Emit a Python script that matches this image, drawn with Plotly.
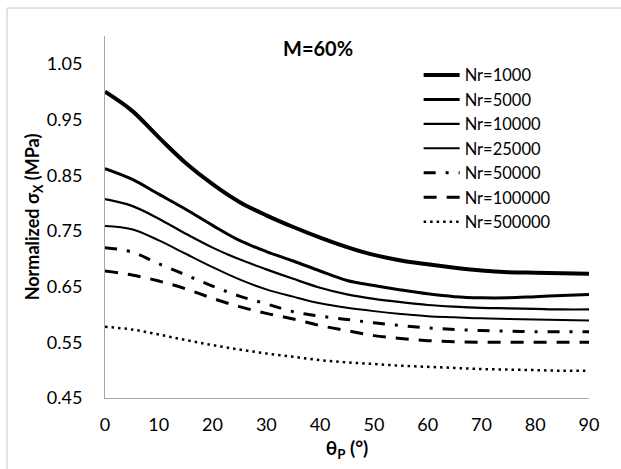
import plotly.graph_objects as go

theta = [0, 5, 10, 15, 20, 25, 30, 35, 40, 45, 50, 55, 60, 65, 70, 75, 80, 85, 90]

nr_1000 = [1.000, 0.966, 0.918, 0.872, 0.834, 0.802, 0.778, 0.757, 0.738, 0.721,
           0.707, 0.697, 0.690, 0.684, 0.679, 0.676, 0.675, 0.674, 0.673]
nr_5000 = [0.862, 0.843, 0.816, 0.789, 0.760, 0.733, 0.713, 0.696, 0.678, 0.661,
           0.652, 0.644, 0.637, 0.632, 0.630, 0.630, 0.632, 0.634, 0.636]
nr_10000 = [0.807, 0.795, 0.772, 0.745, 0.720, 0.699, 0.681, 0.664, 0.648, 0.636,
            0.628, 0.622, 0.617, 0.614, 0.612, 0.611, 0.610, 0.609, 0.609]
nr_25000 = [0.759, 0.753, 0.733, 0.709, 0.685, 0.663, 0.645, 0.632, 0.620, 0.612,
            0.606, 0.601, 0.597, 0.595, 0.593, 0.592, 0.591, 0.590, 0.589]
nr_50000 = [0.720, 0.712, 0.691, 0.671, 0.651, 0.633, 0.619, 0.605, 0.597, 0.591,
            0.585, 0.580, 0.576, 0.573, 0.571, 0.570, 0.569, 0.569, 0.569]
nr_100000 = [0.678, 0.671, 0.660, 0.646, 0.629, 0.614, 0.602, 0.592, 0.580, 0.571,
             0.562, 0.557, 0.553, 0.551, 0.550, 0.550, 0.550, 0.550, 0.550]
nr_500000 = [0.578, 0.573, 0.564, 0.554, 0.545, 0.537, 0.530, 0.524, 0.518, 0.514,
             0.511, 0.508, 0.506, 0.504, 0.502, 0.501, 0.500, 0.499, 0.499]

names = ["Nr=1000", "Nr=5000", "Nr=10000", "Nr=25000", "Nr=50000", "Nr=100000", "Nr=500000"]
series = [nr_1000, nr_5000, nr_10000, nr_25000, nr_50000, nr_100000, nr_500000]

# line look per series (Excel-ish)
widths = [4, 3, 2.2, 2, 3, 3, 2.5]
dashes = ["solid", "solid", "solid", "solid", "12px,10px,3px,10px", "13px,10px", "2.5px,4px"]

fig = go.Figure()
for name, ys, w, d in zip(names, series, widths, dashes):
    fig.add_trace(go.Scatter(x=theta, y=ys, mode="lines", name=name,
                             line=dict(color="black", width=w, dash=d, shape="spline")))

font = "Lato, 'Open Sans', sans-serif"
border = dict(color="#c8c8c8", width=1)

fig.update_layout(
    width=621, height=469,
    margin=dict(l=105, r=32, t=36, b=71),
    paper_bgcolor="white", plot_bgcolor="white",
    font=dict(family=font, size=18, color="black"),
    showlegend=True,
    legend=dict(x=0.648, y=0.94, xanchor="left", yanchor="top",
                bgcolor="rgba(0,0,0,0)", font=dict(size=16.5),
                tracegroupgap=0, itemwidth=36),
    xaxis=dict(range=[0, 90], tickvals=list(range(0, 91, 10)), showgrid=False,
               zeroline=False, showline=True, linecolor="#a6a6a6", linewidth=1,
               ticks="", ticklabelstandoff=10,
               title=dict(text="<b>θ<sub>P</sub> (°)</b>", font=dict(size=19), standoff=8)),
    yaxis=dict(range=[0.45, 1.10], tickvals=[0.45, 0.55, 0.65, 0.75, 0.85, 0.95, 1.05],
               tickformat=".2f", showgrid=False, zeroline=False, showline=True,
               linecolor="#a6a6a6", linewidth=1, ticks="", ticklabelstandoff=18,
               title=dict(text="<b>Normalized σ<sub>X</sub> (MPa)</b>", font=dict(size=18), standoff=2)),
    annotations=[dict(text="<b>M=60%</b>", x=0.44, y=0.967, xref="paper", yref="paper",
                      xanchor="center", yanchor="middle", showarrow=False,
                      font=dict(size=20))],
    # chart-area frame: only the left and top edges show in the reference
    shapes=[dict(type="line", xref="paper", yref="paper", x0=-0.2025, y0=-0.3,
                 x1=-0.2025, y1=1.0773, line=border),
            dict(type="line", xref="paper", yref="paper", x0=-0.2025, y0=1.0773,
                 x1=1.3, y1=1.0773, line=border)],
)

# drop the default page margin so the figure sits at the window's corner
fig.write_html("out.html", config={"displayModeBar": False},
               post_script="document.body.style.margin='0';")
